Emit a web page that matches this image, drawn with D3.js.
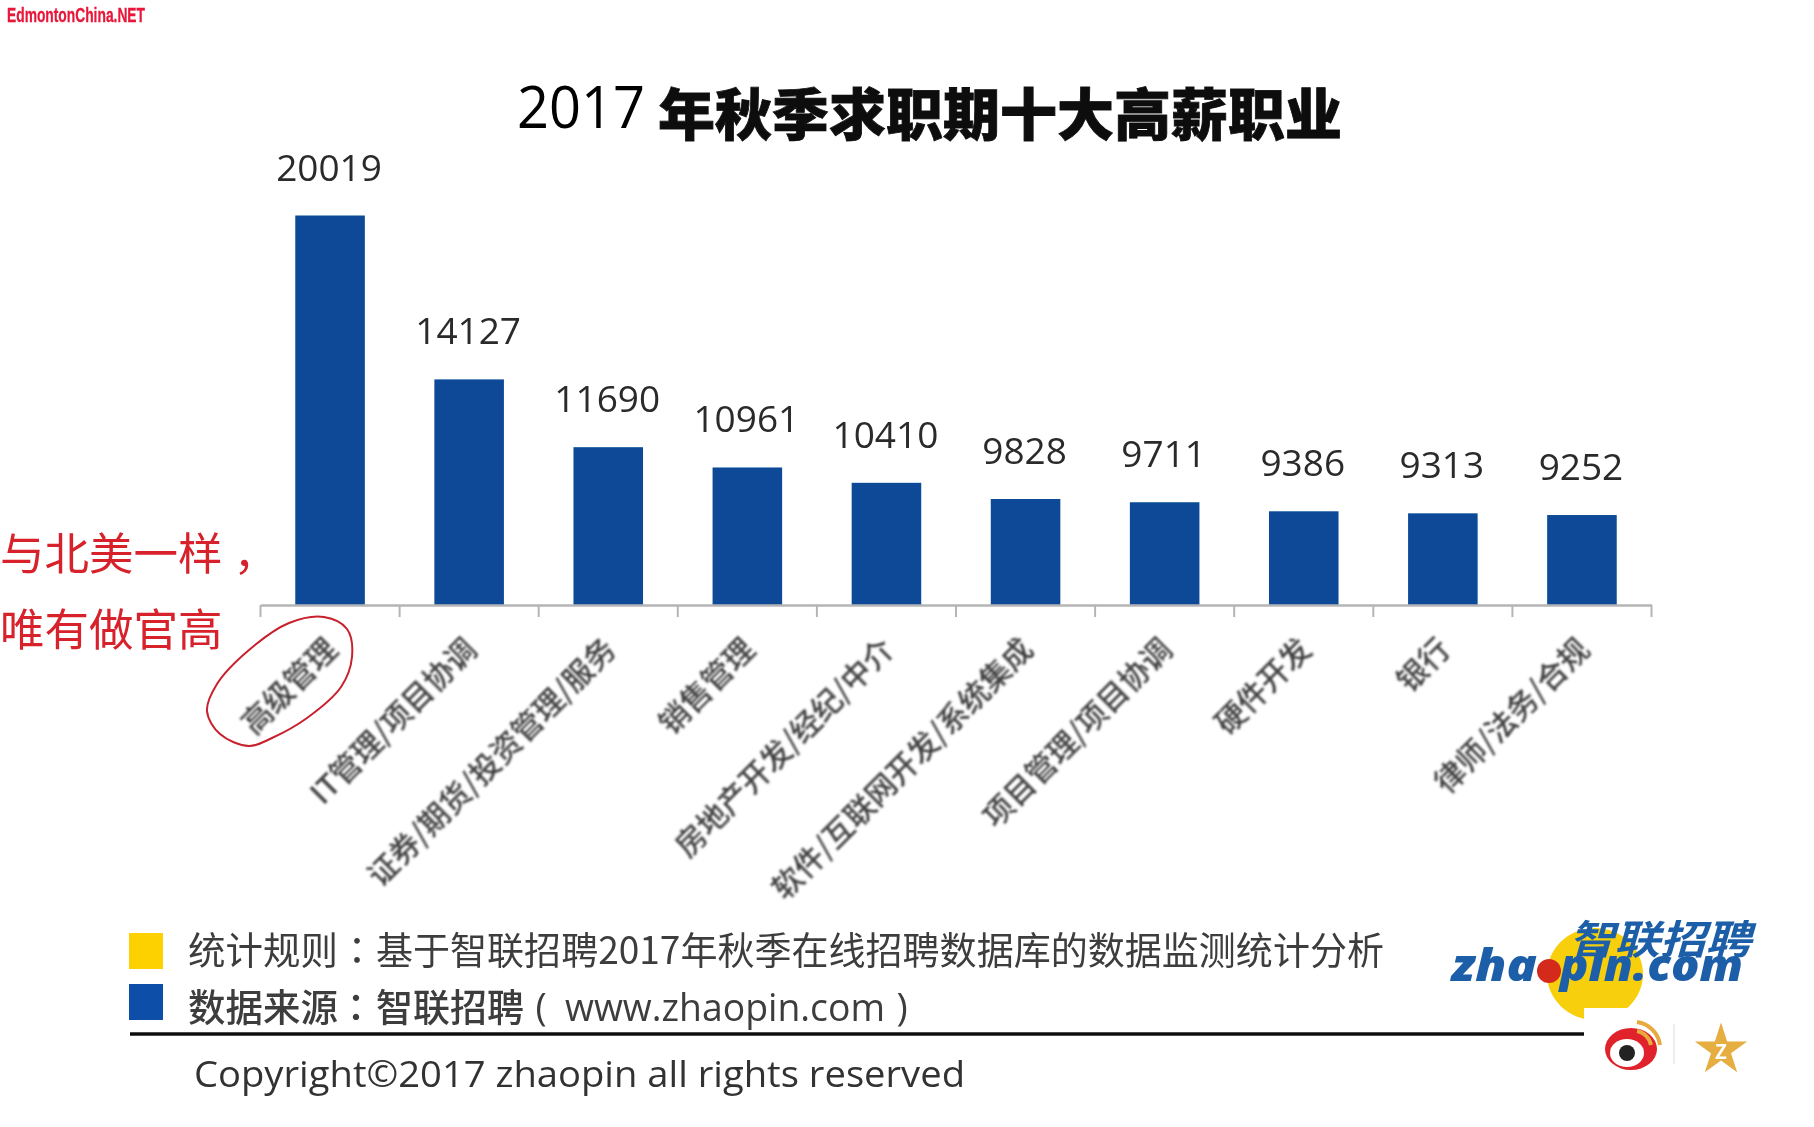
<!DOCTYPE html>
<html><head><meta charset="utf-8">
<script src="https://cdn.jsdelivr.net/npm/d3@7/dist/d3.min.js"></script>
<style>html,body{margin:0;padding:0;background:#fff;overflow:hidden}svg{display:block}
text{font-family:"Noto Sans CJK SC","Open Sans",sans-serif}</style></head>
<body><svg id="c" width="1814" height="1127"></svg>
<script>
const categories=["高级管理","IT管理/项目协调","证券/期货/投资管理/服务","销售管理","房地产开发/经纪/中介","软件/互联网开发/系统集成","项目管理/项目协调","硬件开发","银行","律师/法务/合规"];
const salaries=[20019,14127,11690,10961,10410,9828,9711,9386,9313,9252];
const titleYear="2017";
const titleText="年秋季求职期十大高薪职业";
const noteLines=["与北美一样","唯有做官高"];
const noteComma="，";
const legendLine1=["统计规则","：","基于智联招聘2017年秋季在线招聘数据库的数据监测统计分析"];
const legendLine2=["数据来源","：","智联招聘","(","www.zhaopin.com",")"];
const legendColors=["#fdd000","#0b4fa8"];
const copyright="Copyright©2017 zhaopin all rights reserved";
const watermark="EdmontonChina.NET";
const circlePts=[[249,746],[220,734],[207,711],[217,684],[249,650],[289,623],[324,617],[347,629],[352,657],[341,687],[307,718],[272,738]];

const svg=d3.select("#c");
const defs=svg.append("defs");
const addBlur=(id,s)=>defs.append("filter").attr("id",id).attr("x","-5%").attr("y","-5%").attr("width","110%").attr("height","110%")
  .append("feGaussianBlur").attr("stdDeviation",s);
addBlur("soft",0.7);
addBlur("softer",0.9);
const x=d3.scaleBand().domain(categories).range([260.5,1651.5]).paddingInner(0.5).paddingOuter(0.25);
const y=d3.scaleLinear().domain([6000,20019]).range([605.5,215.5]);
const main=svg.append("g").attr("filter","url(#soft)");

// title
main.append("text").attr("x",517).attr("y",128).attr("font-size",58).attr("fill","#000")
  .style("font-family","'Open Sans',sans-serif").attr("textLength",128).attr("lengthAdjust","spacingAndGlyphs").text(titleYear);
main.append("text").attr("x",658).attr("y",135).attr("font-size",56).attr("font-weight",900)
  .attr("fill","#111").attr("stroke","#111").attr("stroke-width",0.8)
  .attr("textLength",684).attr("lengthAdjust","spacingAndGlyphs").text(titleText);

// bars
main.selectAll("rect.bar").data(salaries).join("rect").attr("class","bar")
  .attr("x",(d,i)=>x(categories[i])).attr("width",x.bandwidth())
  .attr("y",d=>y(d)).attr("height",d=>y(6000)-y(d)).attr("fill","#084a96");
main.selectAll("text.val").data(salaries).join("text").attr("class","val")
  .attr("x",(d,i)=>x(categories[i])+x.bandwidth()/2-1).attr("y",d=>y(d)-35)
  .attr("text-anchor","middle").attr("font-size",37).attr("fill","#2a2a2a").attr("font-weight",500)
  .style("font-family","'Open Sans',sans-serif").text(d=>d);

// axis
const axis=d3.axisBottom(x).tickSize(0).tickPadding(0);
const ag=svg.append("g").attr("filter","url(#soft)").attr("transform","translate(0,605)").call(axis);
ag.select(".domain").attr("stroke","#b5b5b5").attr("stroke-width",2.5);
ag.selectAll(".tick text").attr("font-size",30).attr("fill","#3c3c3c").attr("font-weight",500)
  .attr("text-anchor","end").attr("dy",0).attr("y",0).attr("filter","url(#softer)")
  .style("font-family","'Noto Sans CJK SC'")
  .attr("transform","translate(9,46) rotate(-45)");
const edges=x.domain().map(c=>x(c)-x.step()*0.25).concat([x.range()[1]]);
main.selectAll("line.tk").data(edges).join("line").attr("class","tk")
  .attr("x1",d=>d).attr("x2",d=>d).attr("y1",605).attr("y2",617).attr("stroke","#b5b5b5").attr("stroke-width",2);

// legend
const legY=[933,984];
main.selectAll("rect.leg").data(legendColors).join("rect").attr("class","leg")
  .attr("x",129).attr("y",(d,i)=>legY[i]).attr("width",34).attr("height",36).attr("fill",d=>d);
const line1Pos=[[188,150],[357,0],[376,1008]];
const line2Pos=[[188,150],[356,0],[376,148],[541,0],[565,320],[902,0]];
function legendRow(cls,words,pos,base,weight){
  main.selectAll("text."+cls).data(words).join("text").attr("class",cls)
    .attr("x",(d,i)=>pos[i][0]).attr("y",base).attr("font-size",38).attr("font-weight",weight).attr("fill","#3d3d3d")
    .attr("text-anchor",(d,i)=>pos[i][1]?"start":"middle")
    .style("font-family",(d,i)=>d==="："?"'Noto Sans CJK TC'":(/^(www|\(|\))/.test(d)?"'Open Sans',sans-serif":null))
    .each(function(d,i){ if(pos[i][1]) d3.select(this).attr("textLength",pos[i][1]).attr("lengthAdjust","spacingAndGlyphs"); })
    .text(d=>d);
}
legendRow("l1",legendLine1,line1Pos,964,400);
legendRow("l2",legendLine2,line2Pos,1021,500);
main.append("line").attr("x1",130).attr("x2",1600).attr("y1",1034).attr("y2",1034).attr("stroke","#111").attr("stroke-width",3.5);
main.append("text").attr("x",194).attr("y",1087).attr("font-size",37).attr("fill","#333").attr("font-weight",500)
  .style("font-family","'Open Sans',sans-serif").attr("textLength",771).attr("lengthAdjust","spacingAndGlyphs").text(copyright);

// logo
main.append("ellipse").attr("cx",1595).attr("cy",974).attr("rx",48).attr("ry",46).attr("fill","#f7cf10");
main.append("text").attr("x",1569).attr("y",954).attr("font-size",40).attr("font-weight",700).attr("font-style","italic")
  .attr("fill","#1d5fa8").attr("textLength",182).attr("lengthAdjust","spacingAndGlyphs").text("智联招聘");
const logoWords=[["zha",1451,86],["pin.com",1560,183]];
main.selectAll("text.logo").data(logoWords).join("text").attr("class","logo")
  .attr("x",d=>d[1]).attr("y",981).attr("font-size",44).attr("font-weight",800).attr("font-style","italic")
  .style("font-family","'Open Sans',sans-serif").attr("fill","#1d5fa8")
  .attr("textLength",d=>d[2]).attr("lengthAdjust","spacingAndGlyphs").text(d=>d[0]);
main.append("circle").attr("cx",1549).attr("cy",971).attr("r",12).attr("fill","#d42a1e");

// social patch
const soc=svg.append("g").attr("filter","url(#soft)");
soc.append("rect").attr("x",1584).attr("y",1008).attr("width",230).attr("height",119).attr("fill","#fff");
soc.append("g").attr("transform","translate(5,-7)").call(g=>{
  g.append("ellipse").attr("cx",1626).attr("cy",1056).attr("rx",26).attr("ry",21).attr("fill","#e0202a");
  g.append("ellipse").attr("cx",1622).attr("cy",1060).attr("rx",17).attr("ry",14).attr("fill","#fff");
  g.append("circle").attr("cx",1622).attr("cy",1060).attr("r",8).attr("fill","#222");
  g.append("path").attr("d","M1632 1038a18 18 0 0 1 14 14M1632 1029a27 27 0 0 1 23 23").attr("fill","none").attr("stroke","#e8a93c").attr("stroke-width",4);
});
soc.append("line").attr("x1",1674).attr("x2",1674).attr("y1",1024).attr("y2",1064).attr("stroke","#eee").attr("stroke-width",2);
soc.append("path").attr("d",d3.symbol(d3.symbolStar,850)()).attr("transform","translate(1721,1050)").attr("fill","#e6ad3f");
soc.append("text").attr("x",1721).attr("y",1059).attr("text-anchor","middle").attr("font-size",20).attr("font-weight",700).attr("fill","#fff").text("Z");

// annotations
const note=svg.append("g");
note.selectAll("text.nt").data(noteLines).join("text").attr("class","nt").attr("x",0).attr("y",(d,i)=>i?646:570)
  .attr("font-size",44.5).attr("fill","#d7222b").attr("font-weight",400)
  .text(d=>d)
  .filter((d,i)=>i===0).append("tspan").attr("dx",11).text(noteComma);
note.append("path").attr("d",d3.line().curve(d3.curveCatmullRomClosed)(circlePts))
  .attr("fill","none").attr("stroke","#c8202c").attr("stroke-width",2);
note.append("text").attr("x",7).attr("y",22).attr("font-size",21).attr("font-weight",700).attr("fill","#e8173a")
  .attr("stroke","#e8173a").attr("stroke-width",0.3)
  .style("font-family","'Liberation Sans',sans-serif").attr("textLength",138).attr("lengthAdjust","spacingAndGlyphs").text(watermark);
</script></body></html>
